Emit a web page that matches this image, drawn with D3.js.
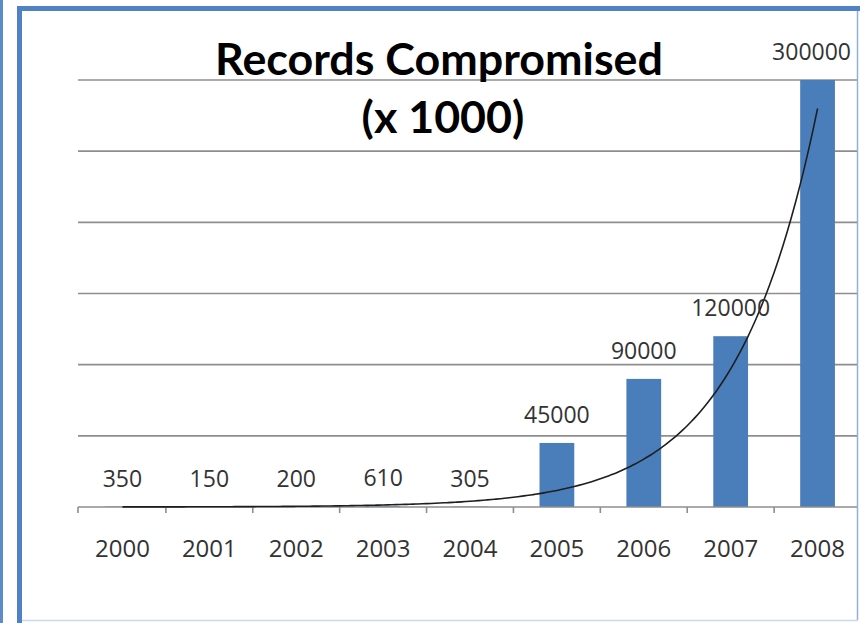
<!DOCTYPE html>
<html>
<head>
<meta charset="utf-8">
<script src="https://cdn.jsdelivr.net/npm/d3@7"></script>
<style>
  html, body { margin: 0; padding: 0; background: #ffffff; }
  svg { display: block; }
</style>
</head>
<body>
<svg id="chart" width="860" height="623"></svg>
<script>
// Yearly records compromised (thousands)
const years = ["2000", "2001", "2002", "2003", "2004", "2005", "2006", "2007", "2008"];
const records = [350, 150, 200, 610, 305, 45000, 90000, 120000, 300000];
const titleLines = ["Records Compromised", "(x 1000)"];
const gridTicks = [0, 50000, 100000, 150000, 200000, 250000, 300000];

const W = 860, H = 623;
const plot = { left: 78, right: 857, top: 80, bottom: 507 };
const font = "'Open Sans', 'Liberation Sans', sans-serif";
const titleFont = "Lato, 'Open Sans', sans-serif";

const svg = d3.select("#chart");

// Category and value scales
const x = d3.scaleBand()
  .domain(years)
  .range([79, 861])
  .paddingInner(0.6)
  .paddingOuter(0.3);
const step = x.step();
const xCenter = d => x(d) + x.bandwidth() / 2;

const y = d3.scaleLinear()
  .domain([0, 300000])
  .range([plot.bottom, plot.top]);

// Outer frame pieces
svg.append("rect").attr("x", 0).attr("y", 0).attr("width", 3).attr("height", H)
  .attr("fill", "#5b8bc9");
svg.append("rect").attr("x", 17).attr("y", 6).attr("width", W - 17).attr("height", 5)
  .attr("fill", "#4f81c4");
svg.append("rect").attr("x", 17).attr("y", 6).attr("width", 5).attr("height", H - 6)
  .attr("fill", "#4f81c4");
svg.append("line").attr("x1", 857.5).attr("x2", 857.5).attr("y1", 11).attr("y2", 620)
  .attr("stroke", "#8fb0dc").attr("stroke-width", 1.5);
svg.append("line").attr("x1", 22).attr("x2", 858).attr("y1", 620.5).attr("y2", 620.5)
  .attr("stroke", "#c9d8ec").attr("stroke-width", 1.5);

// Horizontal gridlines
svg.append("g")
  .selectAll("line")
  .data(gridTicks.filter(t => t > 0))
  .join("line")
  .attr("x1", plot.left)
  .attr("x2", plot.right)
  .attr("y1", d => y(d))
  .attr("y2", d => y(d))
  .attr("stroke", "#8e8e8e")
  .attr("stroke-width", 1.6);

// Bars
svg.append("g")
  .selectAll("rect")
  .data(years)
  .join("rect")
  .attr("x", d => x(d))
  .attr("width", x.bandwidth())
  .attr("y", (d, i) => y(records[i]))
  .attr("height", (d, i) => y(0) - y(records[i]))
  .attr("fill", "#4a7ebb");

// Category axis: baseline with ticks between categories
const axisG = svg.append("g");
axisG.append("line")
  .attr("x1", plot.left).attr("x2", plot.right)
  .attr("y1", plot.bottom).attr("y2", plot.bottom)
  .attr("stroke", "#8e8e8e").attr("stroke-width", 1.6);
const tickXs = d3.range(years.length + 1).map(i => x.range()[0] + i * step)
  .filter(v => v <= plot.right);
tickXs[0] = plot.left;
axisG.selectAll("line.tick")
  .data(tickXs)
  .join("line")
  .attr("class", "tick")
  .attr("x1", d => d).attr("x2", d => d)
  .attr("y1", plot.bottom).attr("y2", plot.bottom + 6)
  .attr("stroke", "#8e8e8e").attr("stroke-width", 1.6);

axisG.selectAll("text")
  .data(years)
  .join("text")
  .attr("x", d => xCenter(d))
  .attr("y", 557)
  .attr("text-anchor", "middle")
  .attr("font-family", font)
  .attr("font-size", 24)
  .attr("fill", "#333333")
  .text(d => d);

// Exponential trendline fitted to the yearly values (least squares on ln y)
const idx = years.map((d, i) => i);
const lnVals = records.map(v => Math.log(v));
const mx = d3.mean(idx), my = d3.mean(lnVals);
const b = d3.sum(idx, i => (i - mx) * (lnVals[i] - my)) / d3.sum(idx, i => (i - mx) * (i - mx));
const lnA = my - b * mx;
const trend = t => Math.exp(lnA + b * t);
const tSamples = d3.range(0, years.length - 1 + 1e-9, 0.05);
const tx = t => xCenter(years[0]) + t * step;
svg.append("path")
  .datum(tSamples)
  .attr("d", d3.line().x(t => tx(t)).y(t => y(trend(t))).curve(d3.curveMonotoneX))
  .attr("fill", "none")
  .attr("stroke", "#1e1e1e")
  .attr("stroke-width", 1.6);

// Value labels above bars, kept inside the plot's right edge
const labels = svg.append("g")
  .selectAll("text")
  .data(years)
  .join("text")
  .attr("y", (d, i) => y(records[i]) - 20)
  .attr("text-anchor", "middle")
  .attr("font-family", font)
  .attr("font-size", 23)
  .attr("fill", "#333333")
  .text((d, i) => records[i]);
labels.attr("x", function (d) {
  const w = this.getComputedTextLength();
  const cx = xCenter(d);
  return Math.min(cx, plot.right - 6 - w / 2);
});

// Title, sized to the chart's header width
const title = svg.append("g");
const t1 = title.append("text")
  .attr("x", 439).attr("y", 75)
  .attr("text-anchor", "middle")
  .attr("font-family", titleFont)
  .attr("font-weight", "bold")
  .attr("font-size", 40)
  .attr("fill", "#000000")
  .text(titleLines[0]);
const fitSize = 40 * 448 / t1.node().getComputedTextLength();
t1.attr("font-size", fitSize);
title.append("text")
  .attr("x", 443).attr("y", 133)
  .attr("text-anchor", "middle")
  .attr("font-family", titleFont)
  .attr("font-weight", "bold")
  .attr("font-size", fitSize)
  .attr("fill", "#000000")
  .text(titleLines[1]);
</script>
</body>
</html>
